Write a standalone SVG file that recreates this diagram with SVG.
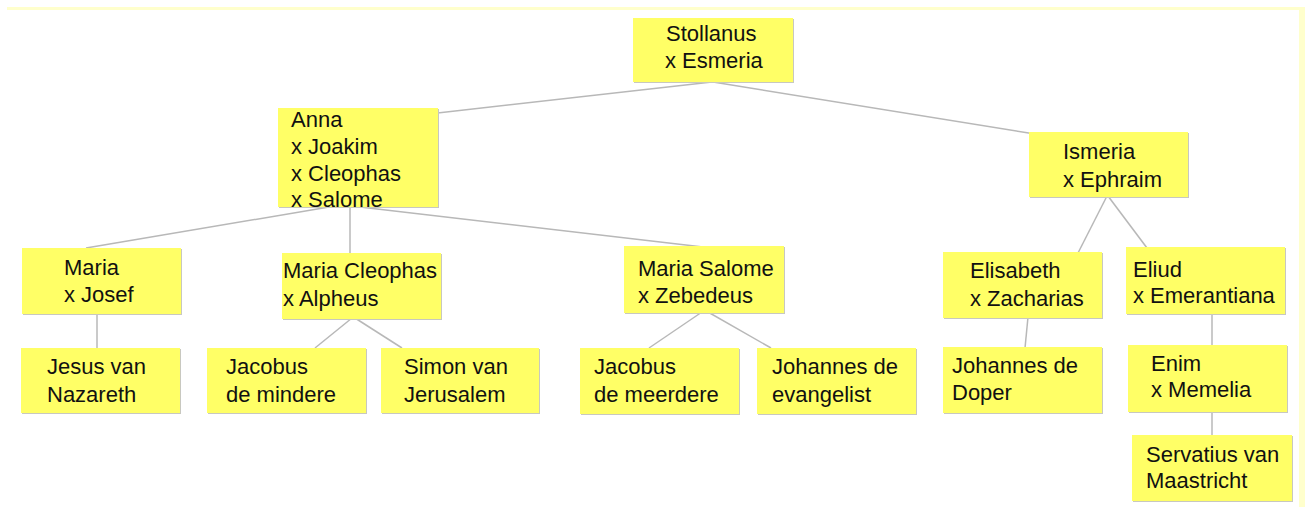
<svg xmlns="http://www.w3.org/2000/svg" width="1305" height="507" viewBox="0 0 1305 507">
<style>
.bx{fill:#ffff66}
.sh{fill:#c8c8c0}
.t{font-family:"Liberation Sans",Arial,sans-serif;font-size:22px;fill:#111111}
.c line{stroke:#b8b8b8;stroke-width:1.5}
</style>
<rect x="0" y="0" width="1305" height="507" fill="#ffffff"/>
<rect x="7" y="7" width="1298" height="3" fill="#ffffcc"/>
<rect x="1299" y="7" width="6" height="500" fill="#ffffcc"/>
<g class="c" id="connectors">
<line x1="712" y1="82" x2="420" y2="115"/>
<line x1="713" y1="82" x2="1035" y2="134"/>
<line x1="335" y1="206" x2="86" y2="248"/>
<line x1="350" y1="206" x2="350" y2="254"/>
<line x1="360" y1="207" x2="703" y2="247"/>
<line x1="97" y1="313" x2="97" y2="349"/>
<line x1="352" y1="318" x2="315" y2="348"/>
<line x1="355" y1="318" x2="402" y2="348"/>
<line x1="702" y1="312" x2="649" y2="348"/>
<line x1="708" y1="312" x2="771" y2="348"/>
<line x1="1107" y1="196" x2="1078" y2="253"/>
<line x1="1108" y1="196" x2="1147" y2="248"/>
<line x1="1028" y1="317" x2="1025" y2="348"/>
<line x1="1212" y1="313" x2="1212" y2="346"/>
<line x1="1212" y1="411" x2="1212" y2="436"/>
</g>
<g id="stollanus"><rect class="sh" x="634" y="19" width="160" height="64"/><rect class="bx" x="633" y="18" width="160" height="64"/><text class="t" x="666" y="41">Stollanus</text><text class="t" x="665" y="68">x Esmeria</text></g>
<g id="anna"><rect class="sh" x="279" y="109" width="160" height="99"/><rect class="bx" x="278" y="108" width="160" height="99"/><text class="t" x="291" y="127">Anna</text><text class="t" x="291" y="154">x Joakim</text><text class="t" x="291" y="181">x Cleophas</text><text class="t" x="291" y="207">x Salome</text></g>
<g id="ismeria"><rect class="sh" x="1030" y="133" width="159" height="65"/><rect class="bx" x="1029" y="132" width="159" height="65"/><text class="t" x="1063" y="159">Ismeria</text><text class="t" x="1063" y="187">x Ephraim</text></g>
<g id="maria"><rect class="sh" x="23" y="249" width="159" height="66"/><rect class="bx" x="22" y="248" width="159" height="66"/><text class="t" x="64" y="275">Maria</text><text class="t" x="64" y="302">x Josef</text></g>
<g id="mariacleophas"><rect class="sh" x="283" y="254" width="159" height="66"/><rect class="bx" x="282" y="253" width="159" height="66"/><text class="t" x="283" y="278">Maria Cleophas</text><text class="t" x="283" y="306">x Alpheus</text></g>
<g id="mariasalome"><rect class="sh" x="625" y="247" width="160" height="67"/><rect class="bx" x="624" y="246" width="160" height="67"/><text class="t" x="638" y="276">Maria Salome</text><text class="t" x="638" y="303">x Zebedeus</text></g>
<g id="elisabeth"><rect class="sh" x="944" y="253" width="159" height="66"/><rect class="bx" x="943" y="252" width="159" height="66"/><text class="t" x="970" y="278">Elisabeth</text><text class="t" x="970" y="306">x Zacharias</text></g>
<g id="eliud"><rect class="sh" x="1127" y="248" width="159" height="67"/><rect class="bx" x="1126" y="247" width="159" height="67"/><text class="t" x="1133" y="277">Eliud</text><text class="t" x="1133" y="303">x Emerantiana</text></g>
<g id="jesus"><rect class="sh" x="22" y="349" width="159" height="65"/><rect class="bx" x="21" y="348" width="159" height="65"/><text class="t" x="47" y="374">Jesus van</text><text class="t" x="47" y="402">Nazareth</text></g>
<g id="jacobusmindere"><rect class="sh" x="208" y="349" width="159" height="65"/><rect class="bx" x="207" y="348" width="159" height="65"/><text class="t" x="226" y="374">Jacobus</text><text class="t" x="226" y="402">de mindere</text></g>
<g id="simon"><rect class="sh" x="382" y="349" width="158" height="65"/><rect class="bx" x="381" y="348" width="158" height="65"/><text class="t" x="404" y="374">Simon van</text><text class="t" x="404" y="402">Jerusalem</text></g>
<g id="jacobusmeerdere"><rect class="sh" x="581" y="349" width="159" height="66"/><rect class="bx" x="580" y="348" width="159" height="66"/><text class="t" x="594" y="374">Jacobus</text><text class="t" x="594" y="402">de meerdere</text></g>
<g id="johannesevangelist"><rect class="sh" x="758" y="349" width="159" height="66"/><rect class="bx" x="757" y="348" width="159" height="66"/><text class="t" x="772" y="374">Johannes de</text><text class="t" x="772" y="402">evangelist</text></g>
<g id="johannesdoper"><rect class="sh" x="944" y="348" width="159" height="66"/><rect class="bx" x="943" y="347" width="159" height="66"/><text class="t" x="952" y="373">Johannes de</text><text class="t" x="952" y="400">Doper</text></g>
<g id="enim"><rect class="sh" x="1129" y="346" width="159" height="67"/><rect class="bx" x="1128" y="345" width="159" height="67"/><text class="t" x="1151" y="371">Enim</text><text class="t" x="1151" y="397">x Memelia</text></g>
<g id="servatius"><rect class="sh" x="1133" y="436" width="160" height="66"/><rect class="bx" x="1132" y="435" width="160" height="66"/><text class="t" x="1146" y="462">Servatius van</text><text class="t" x="1146" y="488">Maastricht</text></g>
</svg>
